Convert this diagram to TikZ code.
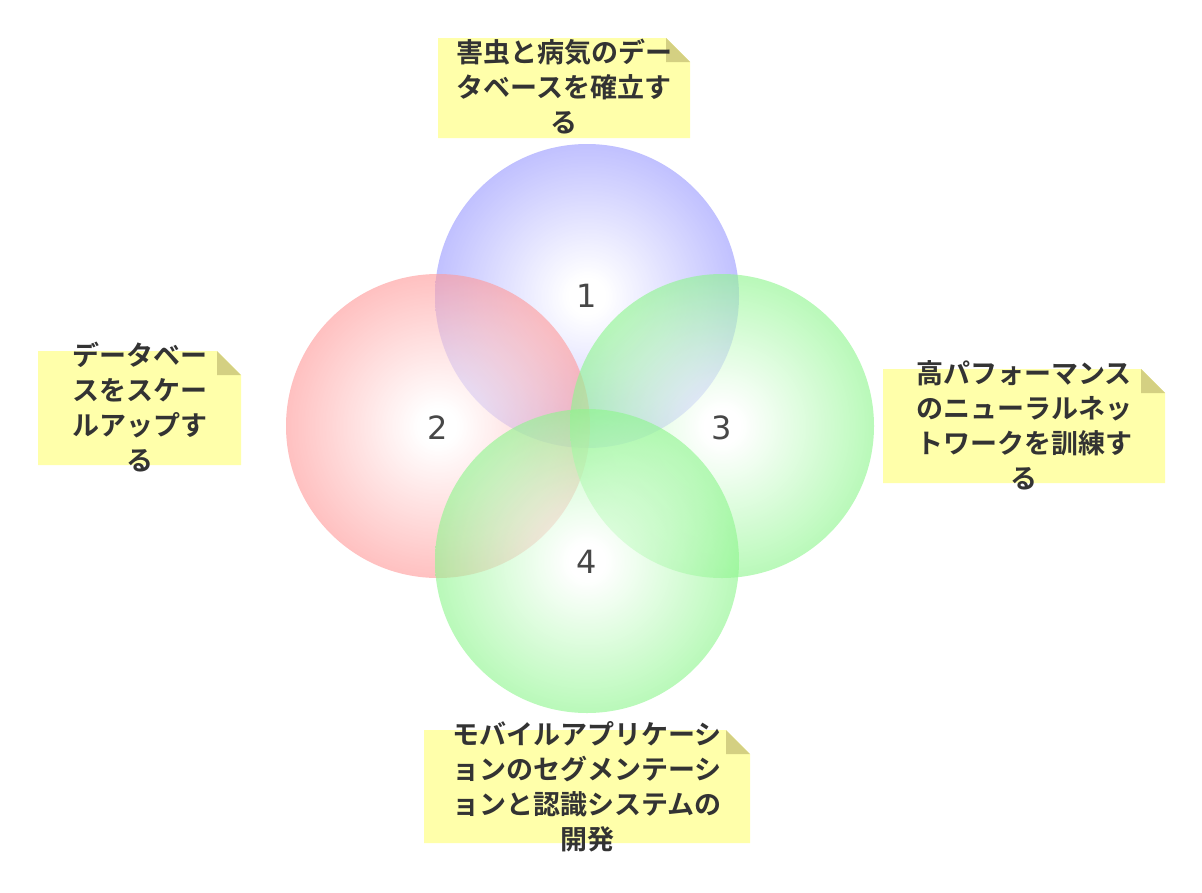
\documentclass[tikz,border=0pt]{standalone}
\usepackage{fontspec}
\newfontfamily\jpfont{Noto Sans CJK JP}[BoldFont={Noto Sans CJK JP Bold}]
\newfontfamily\numfont{DejaVu Sans}
\usetikzlibrary{positioning}
\definecolor{notefill}{RGB}{255,255,170}
\definecolor{notefold}{RGB}{212,208,130}
\definecolor{inktext}{RGB}{51,51,51}
\definecolor{ballb}{RGB}{90,90,255}
\definecolor{ballr}{RGB}{255,90,90}
\definecolor{ballg}{RGB}{70,240,70}
\pgfdeclareradialshading{ballblue}{\pgfpoint{0bp}{0bp}}{color(0bp)=(white); color(3bp)=(white); color(30bp)=(ballb!75); color(50bp)=(ballb)}
\pgfdeclareradialshading{ballred}{\pgfpoint{0bp}{0bp}}{color(0bp)=(white); color(3bp)=(white); color(30bp)=(ballr!75); color(50bp)=(ballr)}
\pgfdeclareradialshading{ballgreen}{\pgfpoint{0bp}{0bp}}{color(0bp)=(white); color(3bp)=(white); color(30bp)=(ballg!75); color(50bp)=(ballg)}
\tikzset{
  ball/.style={shading=#1, fill opacity=0.62, draw=none},
  note/.style={font=\jpfont\bfseries\fontsize{27}{35}\selectfont, text=inktext,
    align=center, inner sep=0pt},
  num/.style={font=\numfont\fontsize{32}{32}\selectfont, text=inktext!90}
}
\begin{document}
\begin{tikzpicture}[x=1pt,y=-1pt]
  \useasboundingbox (0,0) rectangle (1202,892);
  % circles
  \shade[ball=ballblue]  (587,296) circle (152);
  \shade[ball=ballred]   (438,426) circle (152);
  \shade[ball=ballgreen] (722,426) circle (152);
  \shade[ball=ballgreen] (587,561) circle (152);
  \node[num] (n1) at (587,296) {1};
  \node[num] (n2) at (438,428) {2};
  \node[num] (n3) at (722,428) {3};
  \node[num] (n4) at (587,562) {4};
  % note backgrounds
  \foreach \l/\t/\r/\b in {438/38/690/138, 38/351/241/465, 883/369/1165/483, 424/730/750/843}{
    \fill[notefill] (\l,\b) -- (\l,\t) -- (\r-24,\t) -- (\r,\t+24) -- (\r,\b) -- cycle;
    \fill[notefold] (\r-24,\t) -- (\r,\t+24) -- (\r-24,\t+24) -- cycle;
  }
  % note texts
  \node[note] (t1) at (564,87) {害虫と病気のデー\\タベースを確立す\\る};
  \node[note] (t2) at (140,407) {データベー\\スをスケー\\ルアップす\\る};
  \node[note] (t3) at (1024,425) {高パフォーマンス\\のニューラルネッ\\トワークを訓練す\\る};
  \node[note] (t4) at (587,787) {モバイルアプリケーシ\\ョンのセグメンテーシ\\ョンと認識システムの\\開発};
\end{tikzpicture}
\end{document}
